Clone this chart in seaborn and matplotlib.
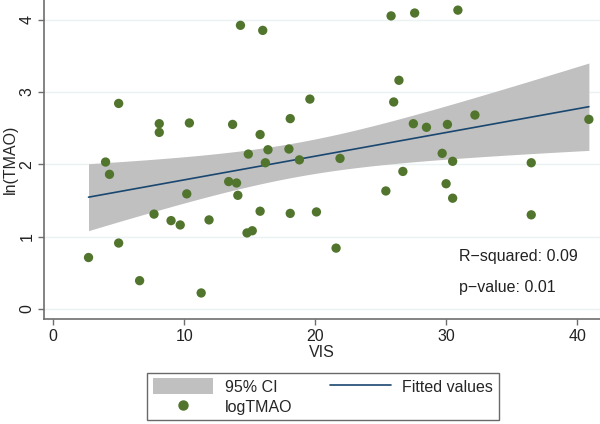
import numpy as np
import pandas as pd
import seaborn as sns
import matplotlib
matplotlib.use("Agg")
import matplotlib.pyplot as plt
from matplotlib.patches import Patch
from matplotlib.lines import Line2D

vis = [2.7, 4.0, 4.3, 5.0, 5.0, 6.6, 7.7, 8.1, 8.1, 9.0, 9.7, 10.2, 10.4, 11.3,
       11.9, 14.3, 16.0, 13.7, 13.4, 14.0, 14.1, 14.9, 14.8, 15.2, 15.8, 15.8,
       16.4, 16.2, 18.1, 18.0, 18.1, 18.8, 19.6, 20.1, 21.6, 21.9,
       25.8, 27.6, 30.9, 26.4, 26.0, 27.5, 28.5, 30.1, 32.2, 40.9, 29.7, 30.5,
       36.5, 26.7, 25.4, 30.0, 30.5, 36.5]
log_tmao = [0.71, 2.03, 1.86, 2.84, 0.91, 0.39, 1.31, 2.56, 2.44, 1.22, 1.16, 1.59, 2.57, 0.22,
            1.23, 3.92, 3.85, 2.55, 1.76, 1.74, 1.57, 2.14, 1.05, 1.08, 1.35, 2.41,
            2.20, 2.02, 2.63, 2.21, 1.32, 2.06, 2.90, 1.34, 0.84, 2.08,
            4.05, 4.09, 4.13, 3.16, 2.86, 2.56, 2.51, 2.55, 2.68, 2.62, 2.15, 2.04,
            2.02, 1.90, 1.63, 1.73, 1.53, 1.30]
x_ticks = [0, 10, 20, 30, 40]
y_ticks = [0, 1, 2, 3, 4]
r2_text = "R\u2212squared: 0.09"
p_text = "p\u2212value: 0.01"

df = pd.DataFrame({"VIS": vis, "logTMAO": log_tmao})

# analytic 95% CI of the fitted mean (as in Stata lfitci)
xa = np.asarray(vis, float)
ya = np.asarray(log_tmao, float)
n = len(xa)
b1, b0 = np.polyfit(xa, ya, 1)
resid = ya - (b0 + b1 * xa)
s = np.sqrt(np.sum(resid ** 2) / (n - 2))
sxx = np.sum((xa - xa.mean()) ** 2)
grid = np.linspace(xa.min(), xa.max(), 200)
fit = b0 + b1 * grid
se = s * np.sqrt(1.0 / n + (grid - xa.mean()) ** 2 / sxx)
tcrit = 2.0066  # t(0.975, 52)
fit_df = pd.DataFrame({"VIS": grid, "fit": fit,
                       "lo": fit - tcrit * se, "hi": fit + tcrit * se})

sns.set_theme(style="white")
plt.rcParams["font.family"] = ["Liberation Sans", "DejaVu Sans"]

green = "#52752e"
navy = "#1a476f"
band = "#c0c0c0"
spine_c = "#6e6e6e"
fs = 11.5

fig = plt.figure(figsize=(6, 4.24), dpi=100)
fig.patch.set_facecolor("white")
ax = fig.add_axes([44 / 600, (424 - 319) / 424, 556 / 600, 319 / 424])

for t in y_ticks:
    ax.axhline(t, color="#eaf2f3", lw=1.0, zorder=0)
ax.fill_between(fit_df["VIS"], fit_df["lo"], fit_df["hi"], color=band,
                lw=0, zorder=2)
sns.lineplot(data=fit_df, x="VIS", y="fit", ax=ax, color=navy, lw=1.2,
             zorder=3, legend=False)
sns.scatterplot(data=df, x="VIS", y="logTMAO", ax=ax, color=green, s=45,
                edgecolor="none", zorder=4)

ax.set_xlim(-0.7, 41.75)
ax.set_ylim(-0.14, 4.27)
ax.set_xticks(x_ticks)
ax.set_yticks(y_ticks)
ax.set_xticklabels([str(t) for t in x_ticks], fontsize=fs)
ax.set_yticklabels([str(t) for t in y_ticks], fontsize=fs, rotation=90, va="center")
ax.grid(False)
ax.set_xlabel("VIS", fontsize=fs, labelpad=1)
ax.set_ylabel("ln(TMAO)", fontsize=fs, va="center")
ax.yaxis.set_label_coords(-0.061, 0.5)
ax.tick_params(axis="both", direction="out", length=4, width=1, color=spine_c,
               bottom=True, left=True, pad=3, labelcolor="#222222")
for sp in ["top", "right"]:
    ax.spines[sp].set_visible(False)
for sp in ["left", "bottom"]:
    ax.spines[sp].set_color(spine_c)
    ax.spines[sp].set_linewidth(1.2)

ax.text(30.95, 0.73, r2_text, fontsize=fs, va="center", ha="left", color="#222222")
ax.text(30.95, 0.30, p_text, fontsize=fs, va="center", ha="left", color="#222222")

handles = [Patch(facecolor=band, edgecolor="none"),
           Line2D([], [], marker="o", linestyle="none", color=green, markersize=6.5),
           Line2D([], [], color=navy, lw=1.2)]
labels = ["95% CI", "logTMAO", "Fitted values"]
leg = fig.legend(handles, labels, ncol=2, loc="center",
                 bbox_to_anchor=(323 / 600, 1 - 396.5 / 424),
                 bbox_transform=fig.transFigure, fontsize=fs, frameon=True,
                 fancybox=False, handlelength=3.8, handleheight=1.1,
                 columnspacing=2.4, handletextpad=0.7, labelspacing=0.25,
                 borderpad=0.35)
leg.get_frame().set_edgecolor("#444444")
leg.get_frame().set_linewidth(1.0)

fig.savefig("out.png", dpi=100, facecolor="white")
